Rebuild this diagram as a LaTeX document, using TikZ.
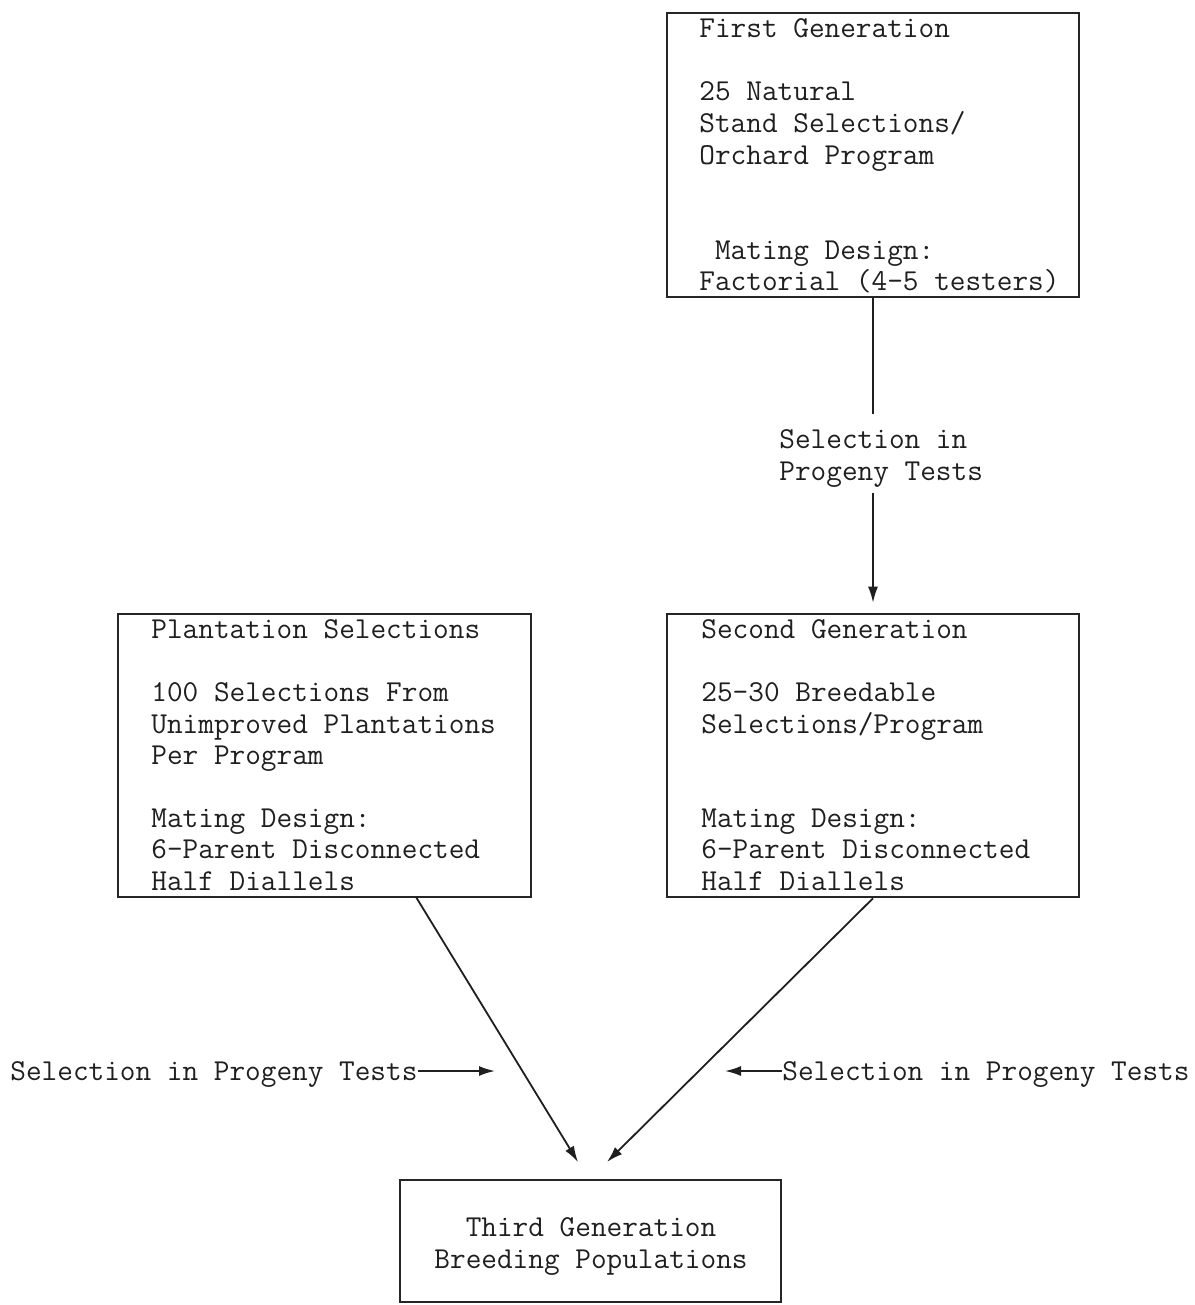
\documentclass[tikz,border=0pt]{standalone}
\usetikzlibrary{arrows.meta,calc}
\begin{document}
\begin{tikzpicture}[x=0.5pt,y=-0.5pt,
  box/.style={draw=black!85,line width=1.3pt,rectangle,inner sep=0},
  txt/.style={anchor=base west,inner sep=0,font=\ttfamily\fontsize{15.2}{16}\selectfont,text=black!88},
  ctxt/.style={anchor=base,inner sep=0,font=\ttfamily\fontsize{15.2}{16}\selectfont,text=black!88},
  conn/.style={draw=black!88,line width=0.9pt},
  arr/.style={conn,-{Latex[length=8pt,width=5pt]}}]
\useasboundingbox (0,0) rectangle (1194,1305);
% boxes
\node[box,minimum width=206pt,minimum height=142pt] (b1) at (873,155) {};
\node[box,minimum width=206.5pt,minimum height=141.5pt] (b2) at (324.5,755.5) {};
\node[box,minimum width=206pt,minimum height=141.5pt] (b3) at (873,755.5) {};
\node[box,minimum width=190.5pt,minimum height=61pt] (b4) at (590.5,1241) {};
% box 1 text
\node[txt] (t11) at (699,38) {First Generation};
\node[txt] (t12) at (699,101) {25 Natural};
\node[txt] (t13) at (699,133) {Stand Selections/};
\node[txt] (t14) at (699,165) {Orchard Program};
\node[txt] (t15) at (699,259) {\phantom{M}Mating Design:};
\node[txt] (t16) at (699,290) {Factorial (4-5 testers)};
% box 2 text
\node[txt] (t21) at (151,638) {Plantation Selections};
\node[txt] (t22) at (151,701) {100 Selections From};
\node[txt] (t23) at (151,733) {Unimproved Plantations};
\node[txt] (t24) at (151,764) {Per Program};
\node[txt] (t25) at (151,827) {Mating Design:};
\node[txt] (t26) at (151,858) {6-Parent Disconnected};
\node[txt] (t27) at (151,890) {Half Diallels};
% box 3 text
\node[txt] (t31) at (701,638) {Second Generation};
\node[txt] (t32) at (701,701) {25-30 Breedable};
\node[txt] (t33) at (701,733) {Selections/Program};
\node[txt] (t35) at (701,827) {Mating Design:};
\node[txt] (t36) at (701,858) {6-Parent Disconnected};
\node[txt] (t37) at (701,890) {Half Diallels};
% box 4 text
\node[ctxt] (t41) at (591,1236) {Third Generation};
\node[ctxt] (t42) at (591,1268) {Breeding Populations};
% labels
\node[txt] (l1a) at (779,448) {Selection in};
\node[txt] (l1b) at (779,480) {Progeny Tests};
\node[txt] (l2) at (10,1080) {Selection in Progeny Tests};
\node[txt] (l3) at (782,1080) {Selection in Progeny Tests};
% connectors
\coordinate (c1) at (873,414);
\coordinate (c2) at (873,493);
\draw[conn] (b1.south) -- (c1);
\draw[arr,shorten >=5pt] (c2) -- (b3.north);
\coordinate (s2) at (416,897);
\coordinate (e2) at (578,1162);
\coordinate (e3) at (607,1162);
\draw[arr] (s2) -- (e2);
\draw[arr] (b3.south) -- (e3);
\coordinate (a2) at (495,1071);
\coordinate (a3) at (725,1071);
\draw[arr] (l2.east |- a2) -- (a2);
\draw[arr] (l3.west |- a3) -- (a3);
\end{tikzpicture}
\end{document}
